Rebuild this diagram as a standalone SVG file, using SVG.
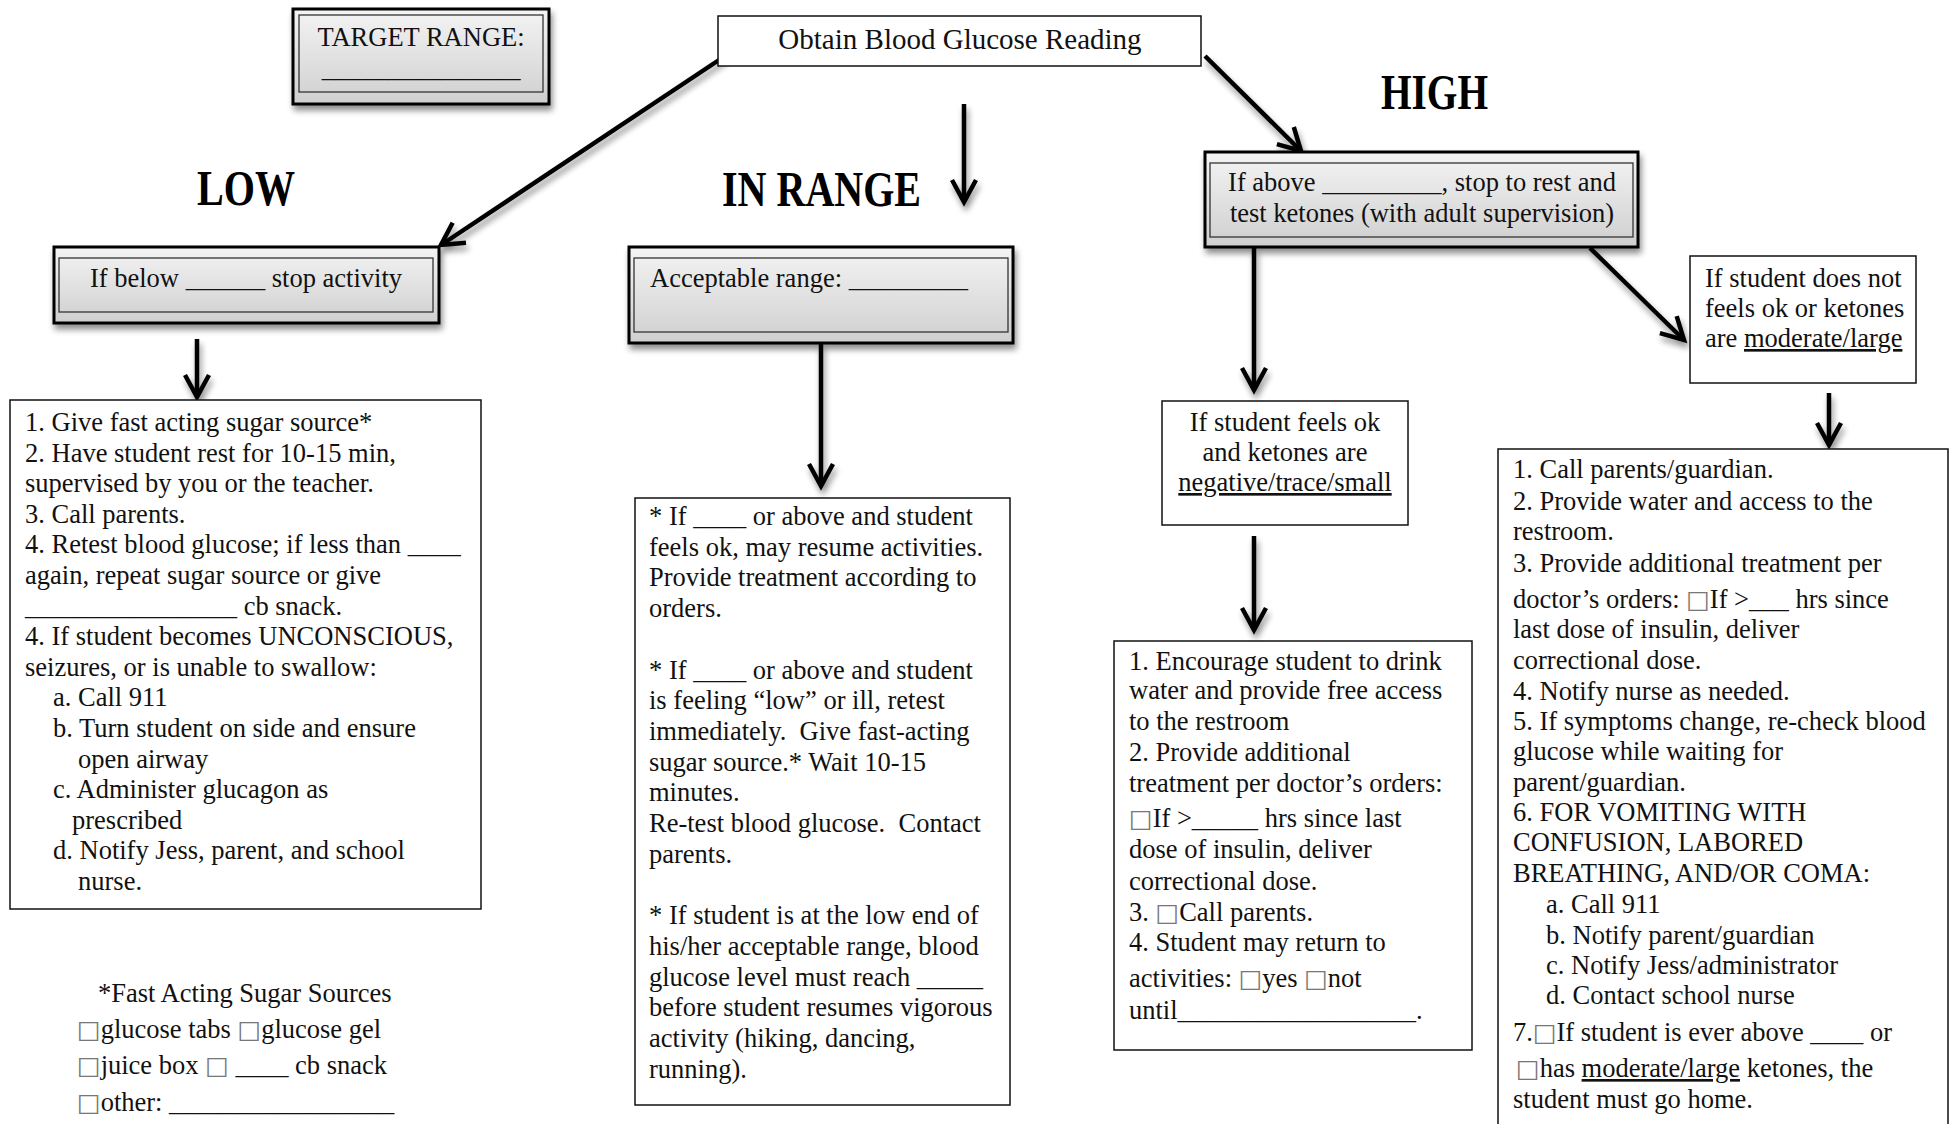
<svg xmlns="http://www.w3.org/2000/svg" width="1956" height="1124" viewBox="0 0 1956 1124">
<defs>
<style>
.t{font-family:"Liberation Serif","Times New Roman",serif;font-size:26.5px;fill:#111;white-space:pre}
.c{text-anchor:middle}
.h{font-family:"Liberation Serif","Times New Roman",serif;font-weight:bold;font-size:50px;fill:#000}
.cb{font-family:"DejaVu Sans",sans-serif;font-size:25px;fill:#777}
.box{fill:#fff;stroke:#111;stroke-width:1.5}
.gbox{fill:url(#grad);stroke:#000;stroke-width:3}
.inner{fill:none;stroke:#333;stroke-width:1.3}
.arr{stroke:#000;stroke-width:4.5;fill:none;marker-end:url(#ah)}
</style>
<linearGradient id="grad" x1="0" y1="0" x2="0" y2="1">
<stop offset="0" stop-color="#f4f4f4"/>
<stop offset="1" stop-color="#cfcfcf"/>
</linearGradient>
<filter id="sh" x="-10%" y="-10%" width="130%" height="140%">
<feGaussianBlur in="SourceAlpha" stdDeviation="3"/>
<feOffset dx="2" dy="5" result="o"/>
<feComponentTransfer><feFuncA type="linear" slope="0.45"/></feComponentTransfer>
<feMerge><feMergeNode/><feMergeNode in="SourceGraphic"/></feMerge>
</filter>
<marker id="ah" markerUnits="userSpaceOnUse" markerWidth="30" markerHeight="28" viewBox="0 0 30 28" refX="26" refY="14" orient="auto" overflow="visible">
<path d="M4,2 L26,14 L4,26" fill="none" stroke="#000" stroke-width="4.5" stroke-linejoin="miter"/>
</marker>
</defs>
<rect width="1956" height="1124" fill="#fff"/>

<g id="connectors" filter="url(#sh)">
<line class="arr" x1="725" y1="56" x2="441" y2="245"/>
<line class="arr" x1="964" y1="104" x2="964" y2="202"/>
<line class="arr" x1="1205" y1="56" x2="1301" y2="151"/>
<line class="arr" x1="197" y1="339" x2="197" y2="397"/>
<line class="arr" x1="821" y1="344" x2="821" y2="486"/>
<line class="arr" x1="1254" y1="248" x2="1254" y2="390"/>
<line class="arr" x1="1590" y1="248" x2="1684" y2="340"/>
<line class="arr" x1="1254" y1="536" x2="1254" y2="630"/>
<line class="arr" x1="1829" y1="393" x2="1829" y2="445"/>
</g>

<g id="target-range">
<rect class="gbox" x="293" y="9" width="256" height="95" filter="url(#sh)"/>
<rect class="inner" x="299" y="15" width="244" height="77"/>
<text class="t c" x="421" y="46">TARGET RANGE:</text>
<text class="t c" x="421" y="77">_______________</text>
</g>

<g id="obtain">
<rect class="box" x="718" y="16" width="483" height="50"/>
<text class="t c" x="960" y="49" style="font-size:29px">Obtain Blood Glucose Reading</text>
</g>

<g id="label-low"><text class="h" x="197" y="205" textLength="98" lengthAdjust="spacingAndGlyphs">LOW</text></g>
<g id="label-inrange"><text class="h" x="722" y="206" textLength="199" lengthAdjust="spacingAndGlyphs">IN RANGE</text></g>
<g id="label-high"><text class="h" x="1381" y="109" textLength="107" lengthAdjust="spacingAndGlyphs">HIGH</text></g>

<g id="low-box">
<rect class="gbox" x="54" y="247" width="385" height="76" filter="url(#sh)"/>
<rect class="inner" x="59" y="258" width="374" height="54"/>
<text class="t c" x="246" y="287">If below ______ stop activity</text>
</g>

<g id="inrange-box">
<rect class="gbox" x="629" y="247" width="384" height="96" filter="url(#sh)"/>
<rect class="inner" x="634" y="258" width="374" height="74"/>
<text class="t" x="650" y="287">Acceptable range: _________</text>
</g>

<g id="high-box">
<rect class="gbox" x="1205" y="152" width="433" height="95" filter="url(#sh)"/>
<rect class="inner" x="1210" y="163" width="423" height="74"/>
<text class="t c" x="1422" y="191">If above _________, stop to rest and</text>
<text class="t c" x="1422" y="222">test ketones (with adult supervision)</text>
</g>

<g id="low-list">
<rect class="box" x="10" y="400" width="471" height="509"/>
<text class="t" x="25" y="431">1. Give fast acting sugar source*</text>
<text class="t" x="25" y="461.6">2. Have student rest for 10-15 min,</text>
<text class="t" x="25" y="492.2">supervised by you or the teacher.</text>
<text class="t" x="25" y="522.8">3. Call parents.</text>
<text class="t" x="25" y="553.4">4. Retest blood glucose; if less than ____</text>
<text class="t" x="25" y="584">again, repeat sugar source or give</text>
<text class="t" x="25" y="614.6">________________ cb snack.</text>
<text class="t" x="25" y="645.2">4. If student becomes UNCONSCIOUS,</text>
<text class="t" x="25" y="675.8">seizures, or is unable to swallow:</text>
<text class="t" x="53" y="706.4">a. Call 911</text>
<text class="t" x="53" y="737">b. Turn student on side and ensure</text>
<text class="t" x="78" y="767.6">open airway</text>
<text class="t" x="53" y="798.2">c. Administer glucagon as</text>
<text class="t" x="72" y="828.8">prescribed</text>
<text class="t" x="53" y="859.4">d. Notify Jess, parent, and school</text>
<text class="t" x="78" y="890">nurse.</text>
</g>

<g id="sugar-sources">
<text class="t" x="98" y="1002">*Fast Acting Sugar Sources</text>
<text class="t" x="77" y="1038"><tspan class="cb">□</tspan>glucose tabs <tspan class="cb">□</tspan>glucose gel</text>
<text class="t" x="77" y="1074"><tspan class="cb">□</tspan>juice box <tspan class="cb">□</tspan> ____ cb snack</text>
<text class="t" x="77" y="1111"><tspan class="cb">□</tspan>other: _________________</text>
</g>

<g id="inrange-list">
<rect class="box" x="635" y="498" width="375" height="607"/>
<text class="t" x="649" y="525">* If ____ or above and student</text>
<text class="t" x="649" y="555.7">feels ok, may resume activities.</text>
<text class="t" x="649" y="586.4">Provide treatment according to</text>
<text class="t" x="649" y="617.1">orders.</text>
<text class="t" x="649" y="678.5">* If ____ or above and student</text>
<text class="t" x="649" y="709.2">is feeling “low” or ill, retest</text>
<text class="t" x="649" y="739.9">immediately.  Give fast-acting</text>
<text class="t" x="649" y="770.6">sugar source.* Wait 10-15</text>
<text class="t" x="649" y="801.3">minutes.</text>
<text class="t" x="649" y="832">Re-test blood glucose.  Contact</text>
<text class="t" x="649" y="862.7">parents.</text>
<text class="t" x="649" y="924.1">* If student is at the low end of</text>
<text class="t" x="649" y="954.8">his/her acceptable range, blood</text>
<text class="t" x="649" y="985.5">glucose level must reach _____</text>
<text class="t" x="649" y="1016.2">before student resumes vigorous</text>
<text class="t" x="649" y="1046.9">activity (hiking, dancing,</text>
<text class="t" x="649" y="1077.6">running).</text>
</g>

<g id="ok-box">
<rect class="box" x="1162" y="401" width="246" height="124"/>
<text class="t c" x="1285" y="431">If student feels ok</text>
<text class="t c" x="1285" y="461">and ketones are</text>
<text class="t c" x="1285" y="491" text-decoration="underline">negative/trace/small</text>
</g>

<g id="notok-box">
<rect class="box" x="1690" y="256" width="226" height="127"/>
<text class="t" x="1705" y="287">If student does not</text>
<text class="t" x="1705" y="317">feels ok or ketones</text>
<text class="t" x="1705" y="347">are <tspan text-decoration="underline">moderate/large</tspan></text>
</g>

<g id="ok-list">
<rect class="box" x="1114" y="641" width="358" height="409"/>
<text class="t" x="1129" y="670">1. Encourage student to drink</text>
<text class="t" x="1129" y="699">water and provide free access</text>
<text class="t" x="1129" y="730">to the restroom</text>
<text class="t" x="1129" y="761">2. Provide additional</text>
<text class="t" x="1129" y="792">treatment per doctor’s orders:</text>
<text class="t" x="1129" y="827"><tspan class="cb">□</tspan>If &gt;_____ hrs since last</text>
<text class="t" x="1129" y="858">dose of insulin, deliver</text>
<text class="t" x="1129" y="890">correctional dose.</text>
<text class="t" x="1129" y="921">3. <tspan class="cb">□</tspan>Call parents.</text>
<text class="t" x="1129" y="951">4. Student may return to</text>
<text class="t" x="1129" y="987">activities: <tspan class="cb">□</tspan>yes <tspan class="cb">□</tspan>not</text>
<text class="t" x="1129" y="1019">until__________________.</text>
</g>

<g id="notok-list">
<rect class="box" x="1498" y="449" width="450" height="690"/>
<text class="t" x="1513" y="478">1. Call parents/guardian.</text>
<text class="t" x="1513" y="510">2. Provide water and access to the</text>
<text class="t" x="1513" y="540">restroom.</text>
<text class="t" x="1513" y="572">3. Provide additional treatment per</text>
<text class="t" x="1513" y="608">doctor’s orders: <tspan class="cb">□</tspan>If &gt;___ hrs since</text>
<text class="t" x="1513" y="638">last dose of insulin, deliver</text>
<text class="t" x="1513" y="669">correctional dose.</text>
<text class="t" x="1513" y="700">4. Notify nurse as needed.</text>
<text class="t" x="1513" y="730">5. If symptoms change, re-check blood</text>
<text class="t" x="1513" y="760">glucose while waiting for</text>
<text class="t" x="1513" y="791">parent/guardian.</text>
<text class="t" x="1513" y="821">6. FOR VOMITING WITH</text>
<text class="t" x="1513" y="851">CONFUSION, LABORED</text>
<text class="t" x="1513" y="882">BREATHING, AND/OR COMA:</text>
<text class="t" x="1546" y="913">a. Call 911</text>
<text class="t" x="1546" y="944">b. Notify parent/guardian</text>
<text class="t" x="1546" y="974">c. Notify Jess/administrator</text>
<text class="t" x="1546" y="1004">d. Contact school nurse</text>
<text class="t" x="1513" y="1041">7.<tspan class="cb">□</tspan>If student is ever above ____ or</text>
<text class="t" x="1516" y="1077"><tspan class="cb">□</tspan>has <tspan text-decoration="underline">moderate/large</tspan> ketones, the</text>
<text class="t" x="1513" y="1108">student must go home.</text>
</g>
</svg>
